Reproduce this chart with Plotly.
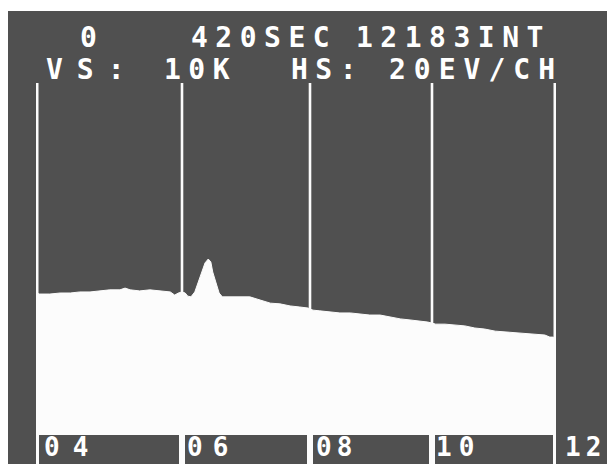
import plotly.graph_objects as go

# ---------------- data ----------------
energy_kev = [4.00, 4.05, 4.19, 4.33, 4.47, 4.60, 4.74, 4.88, 5.01, 5.15, 5.22, 5.29, 5.42, 5.56, 5.70, 5.84, 5.90, 5.95, 6.00,
              6.05, 6.09, 6.14, 6.20, 6.25, 6.31, 6.36, 6.41, 6.45, 6.48, 6.53, 6.58, 6.63, 6.75, 6.91, 7.06, 7.22, 7.38, 7.53, 7.69, 7.84, 7.97, 8.00,
              8.05, 8.16, 8.33, 8.49, 8.66, 8.82, 8.98, 9.15, 9.31, 9.48, 9.64, 9.80, 9.93, 10.00,
              10.06, 10.21, 10.37, 10.53, 10.69, 10.85, 11.02, 11.18, 11.34, 11.50, 11.66, 11.82, 11.90, 11.95, 12.00]
counts = [4000, 3970, 3970, 4000, 4000, 4030, 4030, 4060, 4090, 4090, 4140, 4090, 4060, 4090, 4060, 4030, 3940, 4000, 4030,
          4000, 3910, 3890, 4030, 4290, 4600, 4860, 4970, 4890, 4600, 4290, 4000, 3890, 3890, 3910, 3890, 3800, 3710, 3690, 3630, 3600, 3570, 3540,
          3510, 3490, 3460, 3430, 3430, 3400, 3370, 3370, 3310, 3260, 3230, 3200, 3170, 3140,
          3110, 3110, 3090, 3060, 3000, 2970, 2910, 2890, 2860, 2830, 2830, 2800, 2740, 2740, 2710]

marker_kev = [4, 6, 8, 10, 12]
marker_labels = ["04", "06", "08", "10", "12"]
full_scale_counts = 10000  # VS: 10K

header_row1 = ["0", "420SEC", "12183INT"]
header_row2 = ["VS:", "10K", "HS:", "20EV/CH"]

# ---------------- layout / style ----------------
# positions below are given in window pixels; the page body adds an 8 px margin
OFF = 8
W, H = 615 - OFF, 464 - OFF
BG = "#505050"
WHITE = "#fcfcfc"
FONT = "DejaVu Sans Mono"
FSIZE = 28
LSIZE = 26

seg_px = [p - OFF for p in (36, 182, 310, 432, 556)]   # marker lines (CRT photo is not linear)
top_px, zero_px = 83 - OFF, 433 - OFF
box_top_px = 435 - OFF
box_inset_px = 3
label_spacing = [13, 10, 5, 7, 5]
label_shift = [6, 3, 4, 2, 7]

px_per_count = (zero_px - top_px) / full_scale_counts
ymin = -(H - zero_px) / px_per_count
ymax = full_scale_counts
box_top = -(box_top_px - zero_px) / px_per_count


def px_x(p):
    return (p - OFF) / W


def px_y(p):
    return 1 - (p - OFF) / H


def spaced(text, spacing):
    return f'<span style="letter-spacing:{spacing}px">{text}</span>'


font = dict(family=FONT, size=FSIZE, color="white", weight="bold")
lfont = dict(family=FONT, size=LSIZE, color="white", weight="bold")

fig = go.Figure()
layout_axes = {}
shapes = []
annotations = []

for k in range(len(marker_kev) - 1):
    e0, e1 = marker_kev[k], marker_kev[k + 1]
    xname = "x" if k == 0 else f"x{k + 1}"
    axkey = "xaxis" if k == 0 else f"xaxis{k + 1}"
    layout_axes[axkey] = dict(domain=[seg_px[k] / W, seg_px[k + 1] / W], range=[e0, e1],
                              visible=False, fixedrange=True, anchor="y")
    xs = [e for e in energy_kev if e0 - 1e-9 <= e <= e1 + 1e-9]
    ys = [c for e, c in zip(energy_kev, counts) if e0 - 1e-9 <= e <= e1 + 1e-9]
    fig.add_trace(go.Scatter(x=[e0, e1], y=[ymin, ymin], xaxis=xname, yaxis="y", mode="lines",
                             line=dict(width=0, color=WHITE), showlegend=False, hoverinfo="skip"))
    fig.add_trace(go.Scatter(x=xs, y=ys, xaxis=xname, yaxis="y", mode="lines", fill="tonexty",
                             fillcolor=WHITE, line=dict(color=WHITE, width=1), showlegend=False))
    for e in (e0, e1):
        outer = (e == marker_kev[0]) or (e == marker_kev[-1])
        fig.add_trace(go.Scatter(x=[e, e], y=[ymin, ymax], xaxis=xname, yaxis="y", mode="lines",
                                 line=dict(color=WHITE, width=5 if outer else 2.6),
                                 showlegend=False, hoverinfo="skip"))
    kev_per_px = (e1 - e0) / (seg_px[k + 1] - seg_px[k])
    shapes.append(dict(type="rect", xref=xname, yref="y",
                       x0=e0 + box_inset_px * kev_per_px, x1=e1 - box_inset_px * kev_per_px,
                       y0=ymin, y1=box_top, fillcolor=BG, line=dict(width=0), layer="above"))
    annotations.append(dict(xref=xname, yref="paper", x=e0, xanchor="left", xshift=label_shift[k],
                            y=px_y(447), yanchor="middle", showarrow=False,
                            text=spaced(marker_labels[k], label_spacing[k]), font=lfont))

annotations.append(dict(xref="x4", yref="paper", x=marker_kev[-1], xanchor="left", xshift=label_shift[-1],
                        y=px_y(447), yanchor="middle", showarrow=False,
                        text=spaced(marker_labels[-1], label_spacing[-1]), font=lfont))

# header text
row1_x = [78, 189, 354]
row1_sp = [0, 7.5, 7.5]
row2_x = [44, 162, 289, 387]
row2_sp = [14, 7.5, 7.5, 8]
for txt, x, sp in zip(header_row1, row1_x, row1_sp):
    annotations.append(dict(xref="paper", yref="paper", x=px_x(x), y=px_y(37), xanchor="left",
                            yanchor="middle", showarrow=False, text=spaced(txt, sp), font=font))
for txt, x, sp in zip(header_row2, row2_x, row2_sp):
    annotations.append(dict(xref="paper", yref="paper", x=px_x(x), y=px_y(69), xanchor="left",
                            yanchor="middle", showarrow=False, text=spaced(txt, sp), font=font))

# white photo border at the top
shapes.append(dict(type="rect", xref="paper", yref="paper", x0=0, x1=1, y0=px_y(11), y1=1,
                   fillcolor="white", line=dict(width=0), layer="above"))

fig.update_layout(
    width=W, height=H, margin=dict(l=0, r=0, t=0, b=0),
    paper_bgcolor=BG, plot_bgcolor="rgba(0,0,0,0)",
    yaxis=dict(domain=[0, 1 - top_px / H], range=[ymin, ymax], visible=False, fixedrange=True),
    shapes=shapes, annotations=annotations, showlegend=False,
    **layout_axes,
)

fig.write_html("out.html")
